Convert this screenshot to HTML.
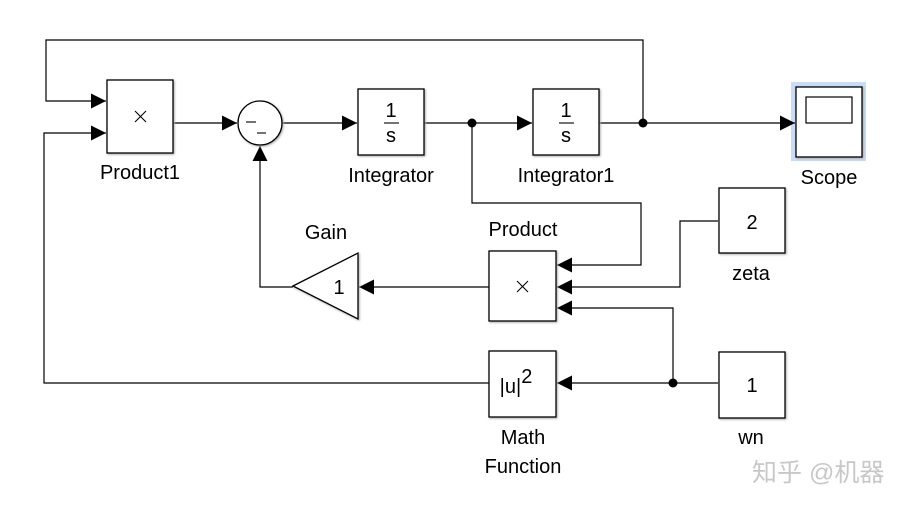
<!DOCTYPE html>
<html><head><meta charset="utf-8"><style>
html,body{margin:0;padding:0;background:#fff;width:919px;height:510px;overflow:hidden}
svg{display:block}
text{font-family:"Liberation Sans",Arial,sans-serif;fill:#000}
</style></head><body>
<svg width="919" height="510" viewBox="0 0 919 510" xmlns="http://www.w3.org/2000/svg">
<defs>
<marker id="a" markerWidth="15" markerHeight="15" refX="15" refY="7.5" orient="auto" markerUnits="userSpaceOnUse" viewBox="0 0 15 15"><path d="M0,0 L15,7.5 L0,15 Z" fill="#000"/></marker>
</defs>
<rect x="791" y="82" width="75" height="79" fill="#c9dcf5"/>
<g fill="none" stroke="#000" stroke-width="1.2">
<polyline points="643,123 643,40 46,40 46,101 106,101" marker-end="url(#a)"/>
<polyline points="489,383 44,383 44,133 106,133" marker-end="url(#a)"/>
<line x1="173" y1="123" x2="237" y2="123" marker-end="url(#a)"/>
<line x1="282" y1="123" x2="357" y2="123" marker-end="url(#a)"/>
<line x1="424" y1="123" x2="532" y2="123" marker-end="url(#a)"/>
<line x1="599" y1="123" x2="795" y2="123" marker-end="url(#a)"/>
<polyline points="472,123 472,203 641,203 641,265 557,265" marker-end="url(#a)"/>
<polyline points="718,221 680,221 680,287 557,287" marker-end="url(#a)"/>
<polyline points="673,383 673,308 557,308" marker-end="url(#a)"/>
<line x1="718" y1="383" x2="557" y2="383" marker-end="url(#a)"/>
<line x1="489" y1="287" x2="359" y2="287" marker-end="url(#a)"/>
<polyline points="293,287 260,287 260,146" marker-end="url(#a)"/>
</g>
<g fill="#000"><circle cx="472" cy="123" r="4.5"/><circle cx="643" cy="123" r="4.5"/><circle cx="673" cy="383" r="4.5"/></g>
<g fill="#fff" stroke="#000" stroke-width="1.3" style="filter:drop-shadow(1px 1px 1px #aaa)">
<rect x="107" y="80" width="66" height="73"/>
<circle cx="260" cy="123" r="22"/>
<rect x="358" y="89" width="66" height="66"/>
<rect x="533" y="89" width="66" height="66"/>
<rect x="796" y="87" width="66" height="70"/>
<rect x="489" y="251" width="67" height="70"/>
<rect x="719" y="188" width="66" height="65"/>
<rect x="489" y="351" width="67" height="66"/>
<rect x="719" y="352" width="66" height="66"/>
<polygon points="293,286 358,253 358,319"/>
</g>
<rect x="806" y="97" width="46" height="26" fill="#fff" stroke="#000" stroke-width="1.2"/>
<g stroke="#000" stroke-width="1.1">
<line x1="135" y1="111" x2="146" y2="122"/><line x1="146" y1="111" x2="135" y2="122"/>
<line x1="517" y1="281" x2="528" y2="292"/><line x1="528" y1="281" x2="517" y2="292"/>
<line x1="246" y1="122" x2="256" y2="122"/><line x1="257" y1="133" x2="266" y2="133"/>
<line x1="384" y1="123" x2="399" y2="123"/><line x1="559" y1="123" x2="574" y2="123"/>
</g>
<g font-size="20" text-anchor="middle">
<text x="391" y="117">1</text><text x="391" y="142">s</text>
<text x="566" y="117">1</text><text x="566" y="142">s</text>
<text x="752" y="229">2</text><text x="752" y="392">1</text>
<text x="339" y="294">1</text>
<text x="516" y="393">|u|<tspan dy="-10">2</tspan></text>
</g>
<g font-size="20" text-anchor="middle">
<text x="140" y="179">Product1</text>
<text x="391" y="182">Integrator</text>
<text x="566" y="182">Integrator1</text>
<text x="829" y="184">Scope</text>
<text x="326" y="239">Gain</text>
<text x="523" y="236">Product</text>
<text x="751" y="280">zeta</text>
<text x="751" y="444">wn</text>
<text x="523" y="444">Math</text>
<text x="523" y="473">Function</text>
</g>
<text x="752" y="481" font-size="25" style='font-family:"Liberation Sans","Noto Sans CJK SC",sans-serif;fill:#c8c8c8'>知乎 @机器</text>
</svg>
</body></html>
